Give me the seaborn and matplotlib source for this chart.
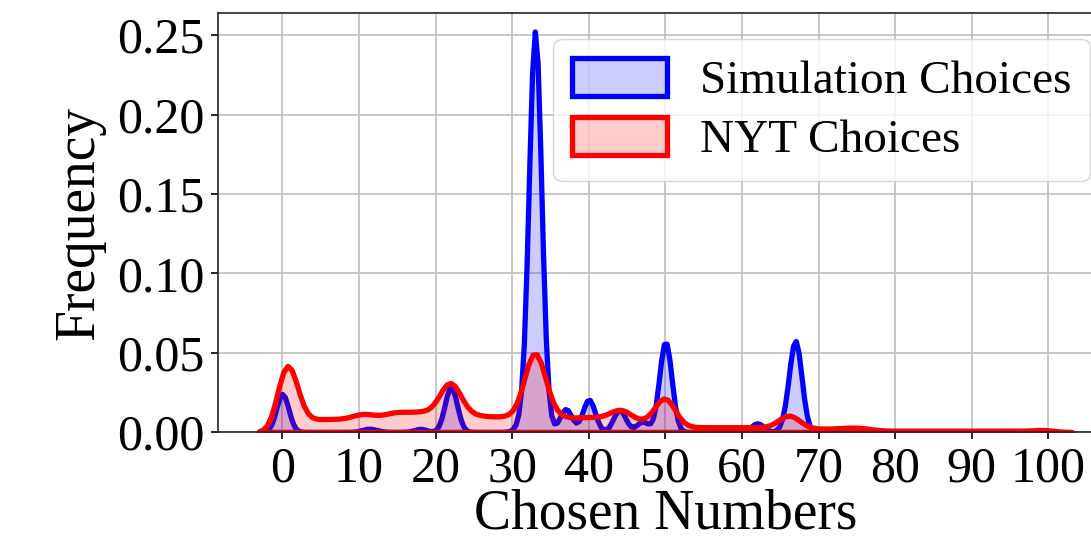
import numpy as np
import matplotlib
matplotlib.use("Agg")
import matplotlib.pyplot as plt
import seaborn as sns

# simulated guesses: chosen number -> how many times
sim_values = [0, 11, 12, 18, 22, 31, 32, 33, 34, 37, 40, 44, 47, 50, 62, 66, 67]
sim_counts = [48, 3, 2, 4, 57, 4, 22, 490, 11, 29, 41, 28, 13, 114, 11, 11, 110]

# NYT readers' guesses (per 10000), numbers 0..100
nyt_values = list(range(101))
nyt_counts = [640, 735, 230, 80, 95, 95, 98, 98, 95, 110,
              145, 145, 120, 115, 145, 160, 145, 150, 155, 150,
              160, 345, 520, 290, 140, 130, 120, 115, 115, 115,
              120, 140, 520, 900, 460, 160, 120, 105, 105, 110,
              115, 110, 105, 150, 205, 165, 90, 70, 90, 205,
              415, 160, 50, 36, 36, 36, 36, 36, 36, 36,
              36, 36, 36, 36, 36, 90, 185, 115, 40, 25,
              25, 25, 25, 30, 35, 35, 30, 20, 10, 10,
              10, 10, 10, 10, 10, 10, 10, 10, 10, 10,
              10, 10, 10, 10, 10, 10, 10, 10, 10, 20,
              20]

x_ticks = list(range(0, 101, 10))
y_ticks = [0.00, 0.05, 0.10, 0.15, 0.20, 0.25]


def bw_for(values, weights, sigma):
    # scipy scales the factor by the weighted std
    std = np.sqrt(np.cov(values, aweights=weights))
    return sigma / std


sns.set_style("ticks", {"axes.grid": True, "grid.color": ".78"})
plt.rcParams['font.family'] = ['Liberation Serif', 'DejaVu Serif']
plt.rcParams.update({'text.color': 'black', 'axes.labelcolor': 'black',
                     'xtick.color': 'black', 'ytick.color': 'black'})

fig = plt.figure(figsize=(10.91, 5.39), dpi=100)
ax = fig.add_axes([0.1998, 0.1985, 0.8208, 0.7774])
ax.set_axisbelow(True)

sns.kdeplot(x=sim_values, weights=sim_counts, bw_method=bw_for(sim_values, sim_counts, 0.8), cut=2.5,
            fill=True, color='blue', alpha=0.2, linewidth=3.8, label='Simulation Choices', ax=ax)
sns.kdeplot(x=nyt_values, weights=nyt_counts, bw_method=bw_for(nyt_values, nyt_counts, 1.1), cut=2,
            fill=True, color='red', alpha=0.2, linewidth=3.8, label='NYT Choices', ax=ax)

ax.set_xlim(-8.4, 108.5)
ax.set_ylim(0, 0.264)
ax.set_xticks(x_ticks)
ax.set_yticks(y_ticks)
ax.set_yticklabels(['{:.2f}'.format(t) for t in y_ticks])
ax.tick_params(labelsize=36, length=5, width=1.2, pad=5)
ax.grid(True, color='.75', linewidth=1.2)
for s in ax.spines.values():
    s.set_color('.15')
    s.set_linewidth(1.2)

ax.set_xlabel('Chosen Numbers', fontsize=40, labelpad=-3)
ax.set_ylabel('Frequency', fontsize=40, labelpad=8)

ax.legend(loc='upper right', bbox_to_anchor=(1090 / 1091, 1 - 39 / 539),
          bbox_transform=fig.transFigure, fontsize=34, handleheight=0.85,
          handletextpad=0.7, labelspacing=0.3, borderaxespad=0)

fig.savefig('out.png', dpi=100)
